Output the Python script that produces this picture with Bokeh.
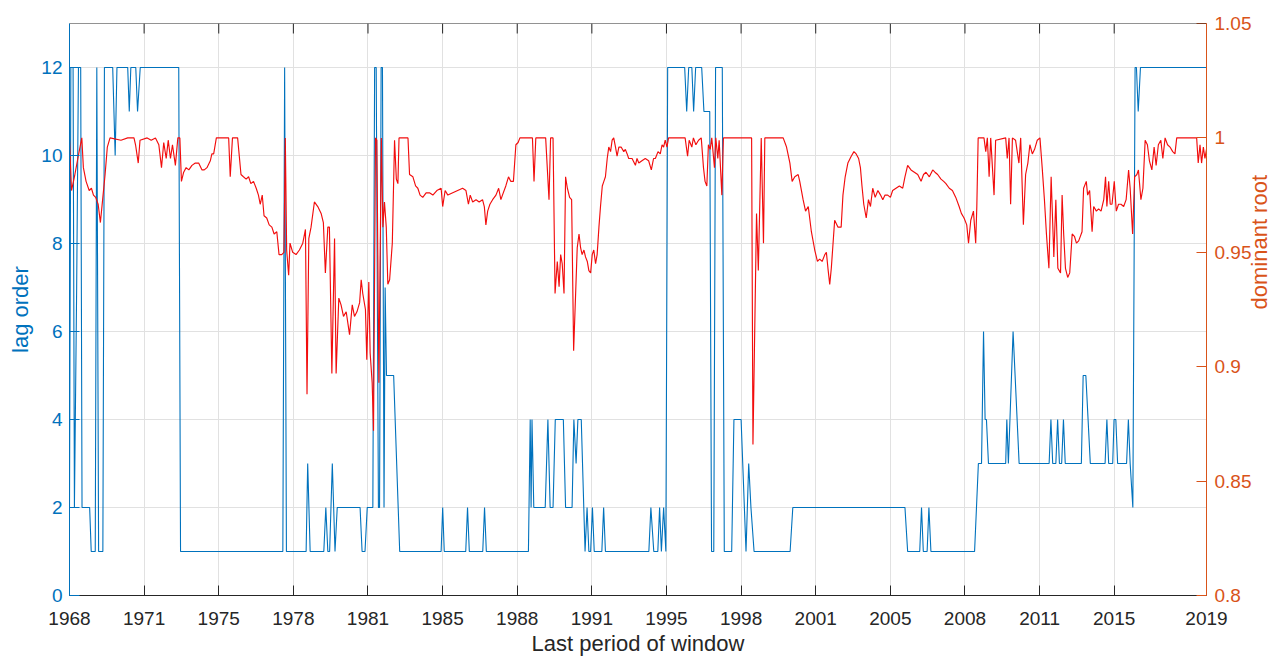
import math
from bokeh.plotting import figure
from bokeh.models import Range1d, LinearAxis, FixedTicker, Span
from bokeh.embed import file_html
from bokeh.resources import INLINE

# ---------------- data ----------------
x_start = 1968.0
x_end = 2018.79
x_tick_values = [1968 + 10 * k / 3 for k in range(15)] + [x_end]
x_tick_labels = ["1968", "1971", "1975", "1978", "1981", "1985", "1988", "1991",
                 "1995", "1998", "2001", "2005", "2008", "2011", "2015", "2019"]

lag_top = 13
lag_ticks = [0, 2, 4, 6, 8, 10, 12]
root_ticks = [0.8, 0.85, 0.9, 0.95, 1.0, 1.05]
root_tick_labels = ["0.8", "0.85", "0.9", "0.95", "1", "1.05"]

lag_year = [
    1968.00, 1968.06, 1968.16, 1968.22, 1968.32, 1968.40, 1968.50, 1968.56, 1968.90, 1968.97,
    1969.15, 1969.22, 1969.30, 1969.49, 1969.56, 1969.93, 1970.04, 1970.12, 1970.60, 1970.67,
    1970.74, 1970.96, 1971.04, 1971.16, 1972.88, 1972.96, 1977.53, 1977.61, 1977.69, 1978.57,
    1978.64, 1978.75, 1979.36, 1979.45, 1979.54, 1979.62, 1979.74, 1979.86, 1979.96, 1980.98,
    1981.07, 1981.20, 1981.30, 1981.55, 1981.63, 1981.70, 1981.80, 1981.85, 1981.92, 1981.98,
    1982.05, 1982.10, 1982.16, 1982.48, 1982.75, 1984.60, 1984.67, 1984.74, 1985.70, 1985.78,
    1985.86, 1986.46, 1986.54, 1986.62, 1988.50, 1988.58, 1988.62, 1988.66, 1988.74, 1989.25,
    1989.37, 1989.47, 1989.60, 1989.70, 1990.06, 1990.16, 1990.45, 1990.53, 1990.63, 1990.71,
    1990.86, 1991.03, 1991.12, 1991.20, 1991.28, 1991.36, 1991.44, 1991.78, 1991.86, 1991.94,
    1993.88, 1993.97, 1994.10, 1994.28, 1994.36, 1994.44, 1994.54, 1994.64, 1994.72, 1995.48,
    1995.57, 1995.66, 1995.80, 1995.88, 1995.97, 1996.24, 1996.34, 1996.60, 1996.68, 1996.78,
    1996.86, 1997.16, 1997.25, 1997.58, 1997.68, 1998.00, 1998.22, 1998.34, 1998.44, 1998.58,
    2000.19, 2000.31, 2005.32, 2005.44, 2005.98, 2006.06, 2006.14, 2006.31, 2006.39, 2006.48,
    2008.43, 2008.60, 2008.74, 2008.83, 2008.90, 2008.96, 2009.05, 2009.82, 2009.87, 2009.94,
    2010.15, 2010.42, 2011.76, 2011.84, 2011.92, 2012.06, 2012.14, 2012.22, 2012.32, 2012.40,
    2012.48, 2013.20, 2013.28, 2013.40, 2013.60, 2014.26, 2014.34, 2014.42, 2014.60, 2014.66,
    2014.74, 2014.82, 2015.22, 2015.30, 2015.38, 2015.50, 2015.60, 2015.66, 2015.74, 2015.84,
    2018.79,
]
lag_order = [
    2, 12, 12, 2, 7, 12, 12, 2, 2, 1,
    1, 12, 1, 1, 12, 12, 10, 12, 12, 11,
    12, 12, 11, 12, 12, 1, 1, 12, 1, 1,
    3, 1, 1, 2, 1, 1, 3, 1, 2, 2,
    1, 1, 2, 2, 12, 12, 2, 2, 12, 12,
    2, 7, 5, 5, 1, 1, 2, 1, 1, 2,
    1, 1, 2, 1, 1, 4, 2, 4, 2, 2,
    4, 2, 2, 4, 4, 2, 2, 4, 3, 4,
    4, 1, 2, 1, 1, 2, 1, 1, 2, 1,
    1, 2, 1, 1, 2, 1, 2, 1, 12, 12,
    11, 12, 12, 11, 12, 12, 11, 11, 1, 1,
    12, 12, 1, 1, 4, 4, 1, 3, 2, 1,
    1, 2, 2, 1, 1, 2, 1, 1, 2, 1,
    1, 3, 3, 6, 4, 4, 3, 3, 4, 3,
    6, 3, 3, 4, 3, 3, 4, 3, 3, 4,
    3, 3, 5, 5, 3, 3, 4, 3, 3, 4,
    4, 3, 3, 4, 3, 2, 12, 12, 11, 12,
    12,
]

root_year = [
    1968.00, 1968.09, 1968.24, 1968.43, 1968.55, 1968.62, 1968.74, 1968.88, 1968.98, 1969.07,
    1969.17, 1969.28, 1969.38, 1969.48, 1969.59, 1969.69, 1969.81, 1970.30, 1970.60, 1970.88,
    1970.95, 1971.07, 1971.15, 1971.47, 1971.65, 1971.84, 1971.99, 1972.11, 1972.21, 1972.32,
    1972.41, 1972.51, 1972.60, 1972.73, 1972.84, 1972.93, 1973.00, 1973.10, 1973.21, 1973.33,
    1973.47, 1973.62, 1973.77, 1973.92, 1974.02, 1974.14, 1974.29, 1974.36, 1974.44, 1974.56,
    1975.11, 1975.18, 1975.28, 1975.51, 1975.66, 1975.77, 1975.89, 1976.00, 1976.10, 1976.22,
    1976.34, 1976.44, 1976.52, 1976.61, 1976.69, 1976.81, 1976.92, 1977.04, 1977.14, 1977.26,
    1977.36, 1977.48, 1977.58, 1977.64, 1977.70, 1977.79, 1977.85, 1977.97, 1978.12, 1978.27,
    1978.42, 1978.54, 1978.61, 1978.69, 1978.79, 1978.94, 1979.09, 1979.24, 1979.34, 1979.43,
    1979.54, 1979.61, 1979.72, 1979.84, 1979.91, 1980.03, 1980.13, 1980.24, 1980.36, 1980.51,
    1980.63, 1980.73, 1980.84, 1980.96, 1981.03, 1981.10, 1981.22, 1981.28, 1981.37, 1981.43,
    1981.52, 1981.58, 1981.67, 1981.73, 1981.82, 1981.93, 1982.00, 1982.07, 1982.15, 1982.22,
    1982.30, 1982.42, 1982.52, 1982.60, 1982.67, 1982.72, 1983.12, 1983.19, 1983.34, 1983.46,
    1983.56, 1983.66, 1983.78, 1983.93, 1984.08, 1984.23, 1984.41, 1984.60, 1984.67, 1984.78,
    1984.90, 1985.12, 1985.34, 1985.56, 1985.71, 1985.82, 1985.90, 1986.01, 1986.16, 1986.30,
    1986.45, 1986.53, 1986.60, 1986.68, 1986.78, 1986.90, 1987.05, 1987.17, 1987.27, 1987.34,
    1987.49, 1987.61, 1987.71, 1987.83, 1987.94, 1988.04, 1988.12, 1988.68, 1988.75, 1988.83,
    1989.27, 1989.42, 1989.49, 1989.60, 1989.69, 1989.79, 1989.87, 1989.94, 1990.01, 1990.09,
    1990.16, 1990.24, 1990.34, 1990.43, 1990.52, 1990.68, 1990.76, 1990.83, 1990.90, 1990.98,
    1991.05, 1991.13, 1991.20, 1991.28, 1991.35, 1991.42, 1991.50, 1991.57, 1991.65, 1991.72,
    1991.80, 1991.87, 1991.94, 1992.02, 1992.09, 1992.17, 1992.24, 1992.31, 1992.39, 1992.46,
    1992.54, 1992.64, 1992.76, 1992.83, 1992.91, 1992.98, 1993.13, 1993.28, 1993.35, 1993.43,
    1993.57, 1993.72, 1993.87, 1993.99, 1994.09, 1994.17, 1994.29, 1994.39, 1994.47, 1994.54,
    1994.61, 1994.69, 1994.76, 1995.50, 1995.61, 1995.68, 1995.80, 1995.87, 1995.98, 1996.10,
    1996.22, 1996.32, 1996.39, 1996.47, 1996.54, 1996.62, 1996.69, 1996.81, 1996.87, 1996.96,
    1997.02, 1997.14, 1997.21, 1998.47, 1998.53, 1998.69, 1998.77, 1998.90, 1999.00, 1999.06,
    1999.88, 2000.03, 2000.18, 2000.28, 2000.40, 2000.55, 2000.62, 2000.77, 2000.88, 2001.00,
    2001.14, 2001.29, 2001.41, 2001.51, 2001.62, 2001.74, 2001.81, 2001.88, 2001.96, 2002.03,
    2002.18, 2002.33, 2002.47, 2002.55, 2002.65, 2002.77, 2002.92, 2003.04, 2003.14, 2003.25,
    2003.33, 2003.40, 2003.48, 2003.59, 2003.69, 2003.78, 2003.88, 2003.99, 2004.11, 2004.23,
    2004.33, 2004.43, 2004.55, 2004.67, 2004.77, 2004.92, 2005.07, 2005.22, 2005.32, 2005.44,
    2005.59, 2005.74, 2005.89, 2006.04, 2006.15, 2006.26, 2006.41, 2006.56, 2006.66, 2006.78,
    2006.93, 2007.05, 2007.15, 2007.30, 2007.44, 2007.59, 2007.74, 2007.84, 2007.96, 2008.08,
    2008.16, 2008.26, 2008.38, 2008.48, 2008.53, 2008.59, 2008.85, 2008.93, 2009.00, 2009.08,
    2009.15, 2009.30, 2009.37, 2009.82, 2009.89, 2009.97, 2010.04, 2010.12, 2010.26, 2010.41,
    2010.49, 2010.61, 2010.71, 2010.81, 2010.90, 2011.01, 2011.11, 2011.23, 2011.35, 2011.45,
    2011.55, 2011.64, 2011.75, 2011.85, 2011.97, 2012.06, 2012.15, 2012.27, 2012.34, 2012.41,
    2012.49, 2012.59, 2012.68, 2012.79, 2012.89, 2012.98, 2013.08, 2013.23, 2013.30, 2013.42,
    2013.48, 2013.57, 2013.68, 2013.75, 2013.87, 2013.97, 2014.08, 2014.20, 2014.28, 2014.34,
    2014.42, 2014.49, 2014.57, 2014.67, 2014.76, 2014.86, 2014.97, 2015.09, 2015.20, 2015.31,
    2015.38, 2015.49, 2015.58, 2015.68, 2015.75, 2015.86, 2015.95, 2016.05, 2016.15, 2016.24,
    2016.35, 2016.45, 2016.54, 2016.64, 2016.75, 2016.84, 2016.94, 2017.05, 2017.16, 2017.28,
    2017.38, 2017.46, 2018.35, 2018.42, 2018.50, 2018.57, 2018.65, 2018.72, 2018.79,
]
dominant_root = [
    0.999, 0.977, 0.984, 0.994, 1.000, 0.987, 0.981, 0.977, 0.978, 0.975,
    0.974, 0.971, 0.963, 0.973, 0.984, 0.996, 1.000, 0.999, 1.000, 1.000,
    0.997, 0.989, 0.999, 1.000, 0.999, 1.000, 0.997, 0.987, 0.998, 0.991,
    0.999, 0.991, 0.997, 0.988, 1.000, 1.000, 0.981, 0.985, 0.987, 0.986,
    0.988, 0.989, 0.989, 0.986, 0.986, 0.987, 0.990, 0.993, 0.993, 1.000,
    1.000, 0.983, 1.000, 1.000, 0.984, 0.983, 0.982, 0.983, 0.980, 0.981,
    0.978, 0.975, 0.971, 0.975, 0.966, 0.965, 0.962, 0.961, 0.958, 0.959,
    0.949, 0.949, 0.950, 1.000, 0.951, 0.940, 0.954, 0.950, 0.949, 0.951,
    0.954, 0.960, 0.888, 0.956, 0.961, 0.972, 0.970, 0.967, 0.963, 0.941,
    0.961, 0.961, 0.897, 0.956, 0.897, 0.930, 0.927, 0.922, 0.924, 0.914,
    0.927, 0.922, 0.924, 0.928, 0.938, 0.932, 0.925, 0.903, 0.937, 0.906,
    0.893, 0.872, 1.000, 0.999, 0.893, 1.000, 0.961, 0.972, 0.961, 0.936,
    0.938, 0.954, 0.999, 0.982, 0.980, 1.000, 1.000, 0.984, 0.983, 0.979,
    0.978, 0.975, 0.974, 0.976, 0.976, 0.975, 0.977, 0.978, 0.970, 0.977,
    0.975, 0.976, 0.977, 0.978, 0.977, 0.971, 0.975, 0.972, 0.973, 0.972,
    0.973, 0.970, 0.962, 0.968, 0.971, 0.973, 0.975, 0.978, 0.973, 0.975,
    0.979, 0.983, 0.981, 0.981, 0.997, 0.998, 1.000, 1.000, 0.981, 1.000,
    1.000, 0.973, 1.000, 1.000, 0.932, 0.946, 0.935, 0.949, 0.945, 0.932,
    0.983, 0.978, 0.974, 0.973, 0.907, 0.952, 0.958, 0.952, 0.949, 0.951,
    0.948, 0.946, 0.942, 0.941, 0.949, 0.951, 0.945, 0.949, 0.961, 0.970,
    0.979, 0.981, 0.983, 0.991, 0.996, 0.994, 0.999, 1.000, 0.996, 0.992,
    0.996, 0.996, 0.994, 0.995, 0.993, 0.991, 0.991, 0.988, 0.991, 0.989,
    0.990, 0.991, 0.990, 0.986, 0.991, 0.991, 0.994, 0.993, 0.997, 0.996,
    0.999, 0.996, 1.000, 1.000, 0.992, 0.999, 0.996, 1.000, 0.997, 0.999,
    1.000, 0.987, 0.981, 0.979, 0.997, 0.995, 1.000, 0.987, 1.000, 0.991,
    0.999, 0.975, 1.000, 1.000, 0.866, 0.967, 0.942, 1.000, 0.954, 1.000,
    1.000, 0.996, 0.989, 0.981, 0.983, 0.984, 0.981, 0.973, 0.968, 0.970,
    0.959, 0.951, 0.946, 0.947, 0.946, 0.949, 0.950, 0.943, 0.936, 0.943,
    0.964, 0.961, 0.961, 0.975, 0.983, 0.989, 0.992, 0.994, 0.993, 0.991,
    0.987, 0.979, 0.971, 0.965, 0.973, 0.970, 0.978, 0.974, 0.977, 0.975,
    0.973, 0.975, 0.975, 0.974, 0.977, 0.978, 0.979, 0.978, 0.983, 0.988,
    0.986, 0.985, 0.984, 0.981, 0.984, 0.985, 0.983, 0.986, 0.985, 0.984,
    0.982, 0.981, 0.980, 0.978, 0.977, 0.974, 0.970, 0.967, 0.965, 0.962,
    0.954, 0.964, 0.968, 0.954, 0.970, 1.000, 1.000, 0.994, 1.000, 0.983,
    1.000, 0.975, 0.999, 1.000, 0.991, 1.000, 0.971, 1.000, 0.999, 0.989,
    1.000, 0.962, 0.984, 0.989, 0.997, 0.993, 0.995, 0.999, 1.000, 0.987,
    0.973, 0.958, 0.943, 0.983, 0.948, 0.973, 0.943, 0.941, 0.975, 0.958,
    0.943, 0.939, 0.941, 0.958, 0.957, 0.954, 0.955, 0.959, 0.978, 0.981,
    0.975, 0.977, 0.959, 0.970, 0.968, 0.969, 0.968, 0.973, 0.983, 0.970,
    0.981, 0.971, 0.971, 0.981, 0.968, 0.971, 0.971, 0.970, 0.973, 0.986,
    0.978, 0.958, 0.983, 0.984, 0.986, 0.973, 0.978, 0.999, 0.997, 0.990,
    0.986, 0.996, 0.988, 0.997, 0.999, 0.991, 1.000, 0.997, 0.996, 0.994,
    0.993, 1.000, 1.000, 0.989, 0.997, 0.989, 0.996, 0.991, 0.995,
]

# ---------------- styling ----------------
BLUE = "#0072BD"
ORANGE = "#D95319"
RED = "#F20D0D"
DARK = "#262626"
GRID = "#E1E1E1"
FONT = "Liberation Sans"
TICK_FS = "19px"
LABEL_FS = "22px"

W, H = 1288, 658
p = figure(width=W, height=H, output_backend="svg", toolbar_location=None,
           x_range=Range1d(x_start, x_end), y_range=Range1d(0, lag_top),
           min_border_left=69, min_border_right=82, min_border_top=23,
           min_border_bottom=63, outline_line_color=None,
           background_fill_color="white", border_fill_color="white")
p.extra_y_ranges = {"root": Range1d(0.8, 1.05)}

p.line(lag_year, lag_order, line_color=BLUE, line_width=1.1)
p.line(root_year, dominant_root, line_color=RED, line_width=1.15, y_range_name="root")

x_ticker = FixedTicker(ticks=x_tick_values)
xax = p.xaxis[0]
xax.ticker = x_ticker
xax.major_label_overrides = {v: s for v, s in zip(x_tick_values, x_tick_labels)}
xax.axis_label = "Last period of window"

yax = p.yaxis[0]
yax.ticker = FixedTicker(ticks=lag_ticks)
yax.axis_label = "lag order"

rax = LinearAxis(y_range_name="root", ticker=FixedTicker(ticks=root_ticks),
                 axis_label="dominant root")
rax.major_label_overrides = {v: s for v, s in zip(root_ticks, root_tick_labels)}
p.add_layout(rax, "right")

for ax, col in ((xax, DARK), (yax, BLUE), (rax, ORANGE)):
    ax.axis_line_color = col
    ax.axis_line_width = 1
    ax.major_tick_line_color = col
    ax.major_tick_in = 10
    ax.major_tick_out = 0
    ax.minor_tick_line_color = None
    ax.major_label_text_color = col
    ax.major_label_text_font = FONT
    ax.major_label_text_font_size = TICK_FS
    ax.axis_label_text_color = col
    ax.axis_label_text_font = FONT
    ax.axis_label_text_font_size = LABEL_FS
    ax.axis_label_text_font_style = "normal"

xax.major_label_standoff = 16
xax.axis_label_standoff = 3
yax.major_label_standoff = 7
yax.axis_label_standoff = 5
rax.major_label_standoff = 8
rax.axis_label_standoff = 5
try:
    rax.axis_label_orientation = math.pi / 2
except Exception:
    pass

# top border of the box with inward ticks at the x tick positions
p.add_layout(Span(location=lag_top, dimension="width", line_color=DARK, line_width=1))
tick_len = 10 * lag_top / 572.0
p.segment(x0=x_tick_values, y0=[lag_top] * len(x_tick_values),
          x1=x_tick_values, y1=[lag_top - tick_len] * len(x_tick_values),
          line_color=DARK, line_width=1)

p.xgrid.ticker = x_ticker
p.ygrid.ticker = FixedTicker(ticks=lag_ticks)
p.xgrid.grid_line_color = GRID
p.ygrid.grid_line_color = GRID
p.xgrid.grid_line_width = 1
p.ygrid.grid_line_width = 1

open("out.html", "w").write(file_html(p, INLINE))
